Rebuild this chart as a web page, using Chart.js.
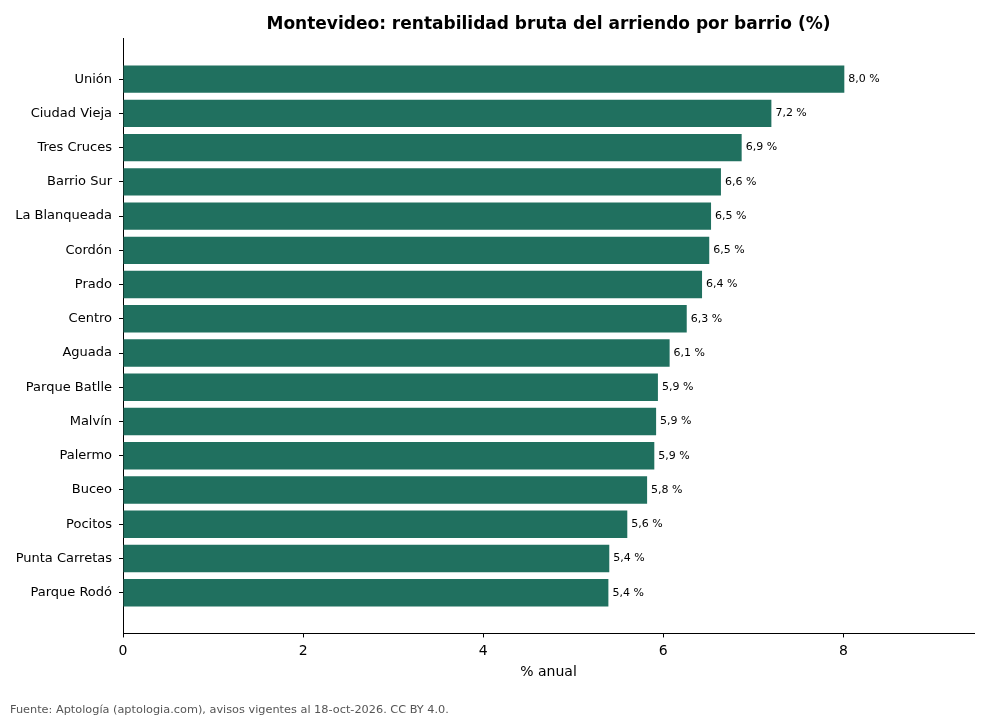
<!DOCTYPE html>
<html>
<head>
<meta charset="utf-8">
<script src="https://cdn.jsdelivr.net/npm/chart.js@4"></script>
<style>
  body { margin: 0; background: #fff; }
  #wrap { width: 990px; height: 717px; }
</style>
</head>
<body>
<div id="wrap"><canvas id="chart"></canvas></div>
<script>
const barrios = ["Unión", "Ciudad Vieja", "Tres Cruces", "Barrio Sur", "La Blanqueada", "Cordón", "Prado", "Centro",
  "Aguada", "Parque Batlle", "Malvín", "Palermo", "Buceo", "Pocitos", "Punta Carretas", "Parque Rodó"];
const rentabilidad = [8.01, 7.20, 6.87, 6.64, 6.53, 6.51, 6.43, 6.26, 6.07, 5.94, 5.92, 5.90, 5.82, 5.60, 5.40, 5.39];
const xTicks = [0, 2, 4, 6, 8];

Chart.defaults.font.family = "'DejaVu Sans', sans-serif";
Chart.defaults.color = "#000";

const fmt = (v) => v.toFixed(1).replace(".", ",") + " %";

// value labels at the end of every bar
const barLabels = {
  id: "barLabels",
  afterDatasetsDraw(chart) {
    const ctx = chart.ctx;
    const meta = chart.getDatasetMeta(0);
    ctx.save();
    ctx.font = "11px 'DejaVu Sans'";
    ctx.fillStyle = "#000";
    ctx.textAlign = "left";
    ctx.textBaseline = "middle";
    meta.data.forEach((bar, i) => {
      ctx.fillText(fmt(rentabilidad[i]), bar.x + 4, bar.y);
    });
    ctx.restore();
  },
};

new Chart(document.getElementById("chart").getContext("2d"), {
  type: "bar",
  data: {
    datasets: [
      {
        data: rentabilidad.map((v, i) => ({ x: v, y: i })),
        backgroundColor: "#20705f",
        categoryPercentage: 1,
        barPercentage: 0.8,
      },
    ],
  },
  options: {
    indexAxis: "y",
    responsive: true,
    maintainAspectRatio: false,
    animation: false,
    layout: { padding: { left: 10, right: 16, top: 0, bottom: 0 } },
    plugins: {
      legend: { display: false },
      tooltip: { enabled: false },
      title: {
        display: true,
        text: "Montevideo: rentabilidad bruta del arriendo por barrio (%)",
        fullSize: false,
        font: { size: 17, weight: "bold" },
        color: "#000",
        padding: { top: 14, bottom: 4 },
      },
      subtitle: {
        display: true,
        position: "bottom",
        align: "start",
        text: "Fuente: Aptología (aptologia.com), avisos vigentes al 18-oct-2026. CC BY 4.0.",
        font: { size: 11.3 },
        color: "#555",
        padding: { top: 10, bottom: 0 },
      },
    },
    scales: {
      x: {
        type: "linear",
        min: 0,
        max: 9.45,
        offset: false,
        afterBuildTicks: (scale) => { scale.ticks = xTicks.map((v) => ({ value: v })); },
        afterFit: (scale) => { scale.height = 60; },
        ticks: { font: { size: 14 }, padding: 6, color: "#000" },
        grid: { offset: false, drawOnChartArea: false, drawTicks: true, tickLength: 4, color: "#000" },
        border: { display: true, color: "#000", width: 1 },
        title: { display: true, text: "% anual", font: { size: 14 }, color: "#000", padding: { top: 3, bottom: 13 } },
      },
      y: {
        type: "linear",
        reverse: true,
        offset: false,
        min: -1.19,
        max: 16.19,
        afterBuildTicks: (scale) => { scale.ticks = barrios.map((_, i) => ({ value: i })); },
        afterFit: (scale) => { scale.width = 113; },
        ticks: { callback: (v) => barrios[v], font: { size: 13 }, padding: 7, color: "#000" },
        grid: { offset: false, drawOnChartArea: false, drawTicks: true, tickLength: 4, color: "#000" },
        border: { display: true, color: "#000", width: 1 },
      },
    },
  },
  plugins: [barLabels],
});
</script>
</body>
</html>
